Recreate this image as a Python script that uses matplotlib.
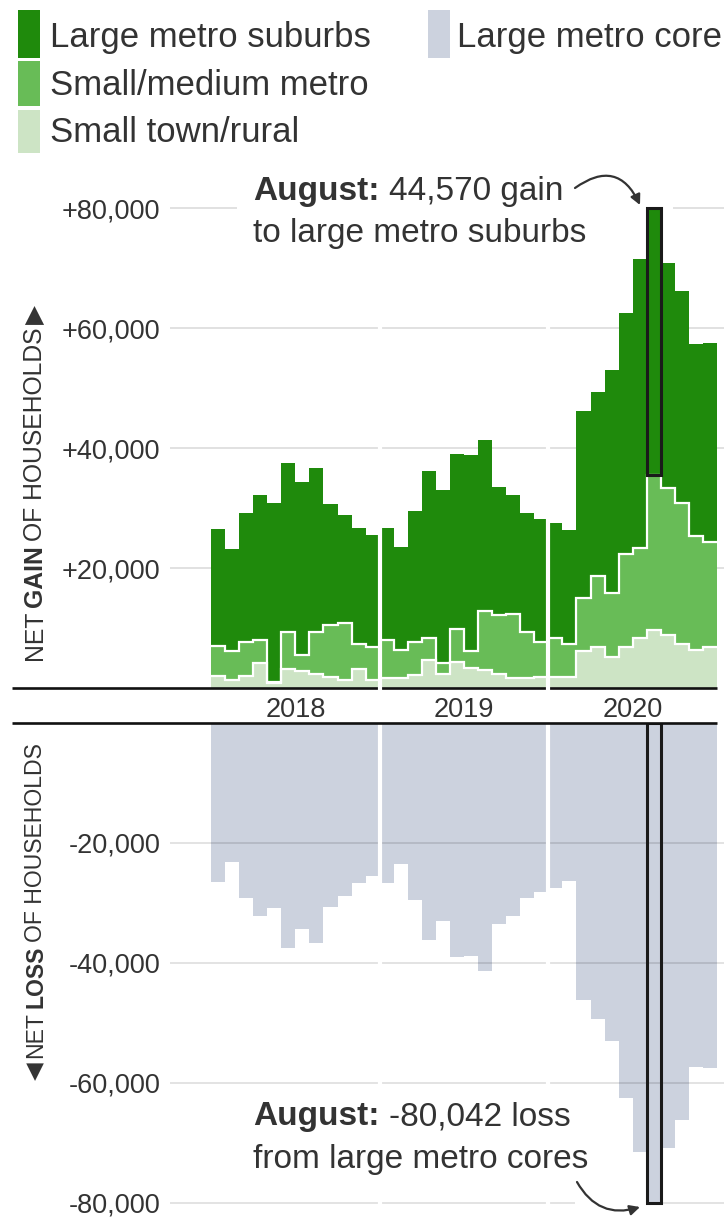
import numpy as np
import matplotlib
matplotlib.use("Agg")
import matplotlib.pyplot as plt
from matplotlib.patches import Rectangle

# monthly net change in households, Jan 2018 - Dec 2020
years = ["2018", "2019", "2020"]
suburbs = [19500, 16900, 21500, 24200, 29800, 28100, 28900, 27300, 20200, 18100, 19300, 18700,
           18600, 17200, 21900, 27800, 28800, 29100, 32600, 28500, 21300, 19700, 19700, 20500,
           19200, 19100, 31200, 30700, 37100, 40100, 48100, 44570, 37400, 35300, 32100, 33100]
medium = [5000, 4800, 5700, 3800, 100, 6200, 2700, 7000, 8600, 9400, 4200, 5400,
          6400, 4700, 5400, 3700, 1800, 5500, 2800, 9900, 9800, 10800, 7800, 5900,
          6400, 5500, 8900, 11700, 10700, 15500, 15100, 25770, 24600, 23400, 18900, 17500]
rural = [2000, 1400, 2000, 4200, 900, 3200, 2800, 2400, 1900, 1400, 3200, 1400,
         1600, 1600, 2200, 4600, 2400, 4400, 3400, 3000, 2400, 1600, 1600, 1800,
         1900, 1800, 6100, 6900, 5200, 6900, 8300, 9700, 8800, 7400, 6400, 6900]
core = [-26500, -23100, -29200, -32200, -30800, -37500, -34400, -36700, -30700, -28900, -26700, -25500,
        -26600, -23500, -29500, -36100, -33000, -39000, -38800, -41400, -33500, -32100, -29100, -28200,
        -27500, -26400, -46200, -49300, -53000, -62500, -71500, -80042, -70800, -66100, -57400, -57500]
highlight = 31  # August 2020

gain_ticks = [20000, 40000, 60000, 80000]
gain_labels = ["+20,000", "+40,000", "+60,000", "+80,000"]
loss_ticks = [-20000, -40000, -60000, -80000]
loss_labels = ["-20,000", "-40,000", "-60,000", "-80,000"]

legend_names = ["Large metro suburbs", "Small/medium metro", "Small town/rural", "Large metro core"]

DARK = "#1f8a0c"
MID = "#68bc57"
LIGHT = "#cde4c5"
GRAY = "#ccd2de"
TEXT = "#333333"
SANS = "Liberation Sans"

W, H = 724, 1217
fig = plt.figure(figsize=(W / 100, H / 100), dpi=100)
renderer = fig.canvas.get_renderer()

X0, X1 = 211, 717          # pixel span of the bars
MP = (X1 - X0) / 36        # pixels per month
LEFT = 170
xlim = ((LEFT - X0) / MP, (W - X0) / MP)
edges = np.arange(37)


def fx(x):
    return x / W


def fy(y):
    return 1 - y / H


def add_ax(top, bottom):
    ax = fig.add_axes([fx(LEFT), fy(bottom), (W - LEFT) / W, (bottom - top) / H])
    ax.set_xlim(*xlim)
    for s in ax.spines.values():
        s.set_visible(False)
    ax.set_xticks([])
    ax.tick_params(axis="y", length=0, pad=7, labelsize=19.5, labelcolor=TEXT)
    return ax


# ---- gain panel
ax = add_ax(196, 688)
ax.set_ylim(0, (688 - 196) / 6 * 1000)
ax.set_yticks(gain_ticks, gain_labels, fontfamily=SANS)
for k in gain_ticks:
    ax.axhline(k, color="#dedede", lw=1.3, zorder=0.5)

r = np.array(rural)
m = r + np.array(medium)
t = m + np.array(suburbs)
ax.stairs(r, edges, baseline=0, fill=True, color=LIGHT, lw=0, zorder=1)
ax.stairs(m, edges, baseline=r, fill=True, color=MID, lw=0, zorder=1)
ax.stairs(t, edges, baseline=m, fill=True, color=DARK, lw=0, zorder=1)
ax.stairs(r, edges, baseline=None, color="white", lw=1.6, zorder=1.5)
ax.stairs(m, edges, baseline=None, color="white", lw=1.6, zorder=1.5)
ax.add_patch(Rectangle((highlight, m[highlight]), 1, suburbs[highlight], fill=False,
                       ec="#1a1a1a", lw=2.2, zorder=4))
# white knockout behind the note
ax.add_patch(Rectangle(((237 - X0) / MP, 76000), (673 - 237) / MP, 8000, fc="white",
                       ec="none", zorder=0.8))
for k in (12, 24):
    ax.axvline(k, ymin=-0.01, color="white", lw=3, zorder=3, clip_on=False)
ax.plot([(12 - X0) / MP, 36], [0, 0], color="#111111", lw=1.9, zorder=2.8,
        clip_on=False, solid_capstyle="butt")
for i, yr in enumerate(years):
    ax.text(12 * i + 6, -(717 - 688) / 6 * 1000, yr, ha="center", va="baseline",
            fontsize=19.5, family=SANS, color=TEXT, clip_on=False)

# ---- loss panel
bx = add_ax(723, 1217)
bx.set_ylim(-(1217 - 723) / 6 * 1000, 0)
bx.set_yticks(loss_ticks, loss_labels, fontfamily=SANS)
bx.stairs(core, edges, baseline=0, fill=True, color=GRAY, lw=0, zorder=1)
for k in loss_ticks:
    bx.axhline(k, color=(0, 0, 0, 0.12), lw=1.3, zorder=1.5)
bx.add_patch(Rectangle(((575 - X0) / MP, -83000), (646 - 575) / MP, 6000, fc="white",
                       ec="none", zorder=1.7))
for k in (12, 24):
    bx.axvline(k, color="white", lw=3, zorder=3)
bx.add_patch(Rectangle((highlight, 0), 1, core[highlight], fill=False,
                       ec="#1a1a1a", lw=2.2, zorder=4))
bx.plot([(12 - X0) / MP, 36], [0, 0], color="#111111", lw=1.9, zorder=5,
        clip_on=False, solid_capstyle="butt")


# ---- text helpers (pixel positions measured from the top-left)
def runs(x, y, parts, size, rotation=0, gap=0.28):
    for s, weight, fam in parts:
        if s == " ":
            step = gap * size * 100 / 72
        else:
            tx = fig.text(fx(x), fy(y), s, fontsize=size, fontweight=weight, family=fam,
                          color=TEXT, rotation=rotation, rotation_mode="anchor",
                          ha="left", va="baseline")
            bb = tx.get_window_extent(renderer)
            step = bb.width if rotation == 0 else bb.height
        if rotation == 0:
            x += step
        else:
            y -= step


runs(253, 200, [("August:", "bold", SANS), (" ", "", ""), ("44,570 gain", "normal", SANS)], 24)
runs(253, 242, [("to large metro suburbs", "normal", SANS)], 24)
runs(253, 1125, [("August:", "bold", SANS), (" ", "", ""), ("-80,042 loss", "normal", SANS)], 24)
runs(253, 1168, [("from large metro cores", "normal", SANS)], 24)

runs(42, 660, [("NET", "normal", SANS), (" ", "", ""), ("GAIN", "bold", SANS), (" ", "", ""),
               ("OF HOUSEHOLDS", "normal", SANS), (" ", "", ""), ("\u25B6", "normal", "DejaVu Sans")],
     17.8, rotation=90, gap=0.15)
runs(42, 1080, [("\u25C0", "normal", "DejaVu Sans"), (" ", "", ""), ("NET", "normal", SANS), (" ", "", ""),
                ("LOSS", "bold", SANS), (" ", "", ""), ("OF HOUSEHOLDS", "normal", SANS)],
     16.6, rotation=90, gap=0.18)

arrow = dict(arrowstyle="-|>,head_length=0.6,head_width=0.3", color=TEXT, lw=1.6,
             shrinkA=0, shrinkB=0)
fig.add_artist(plt.Annotation("", xy=(640, H - 205), xytext=(575, H - 188),
                              xycoords="figure pixels", textcoords="figure pixels",
                              arrowprops=dict(arrow, connectionstyle="arc3,rad=-0.6")))
fig.add_artist(plt.Annotation("", xy=(640, H - 1207), xytext=(577, H - 1182),
                              xycoords="figure pixels", textcoords="figure pixels",
                              arrowprops=dict(arrow, connectionstyle="arc3,rad=0.4")))

# ---- legend
swatches = [(18, 10, 58, DARK), (18, 61, 106, MID), (18, 110, 153, LIGHT), (428, 10, 58, GRAY)]
label_pos = [(50, 47), (50, 95), (50, 142), (457, 47)]
for (sx, top, bot, col), (lx, ly), name in zip(swatches, label_pos, legend_names):
    fig.add_artist(Rectangle((fx(sx), fy(bot)), 22 / W, (bot - top) / H, fc=col, ec="none",
                             transform=fig.transFigure))
    fig.text(fx(lx), fy(ly), name, fontsize=25, family=SANS, color=TEXT, va="baseline")

fig.savefig("out.png", dpi=100)
